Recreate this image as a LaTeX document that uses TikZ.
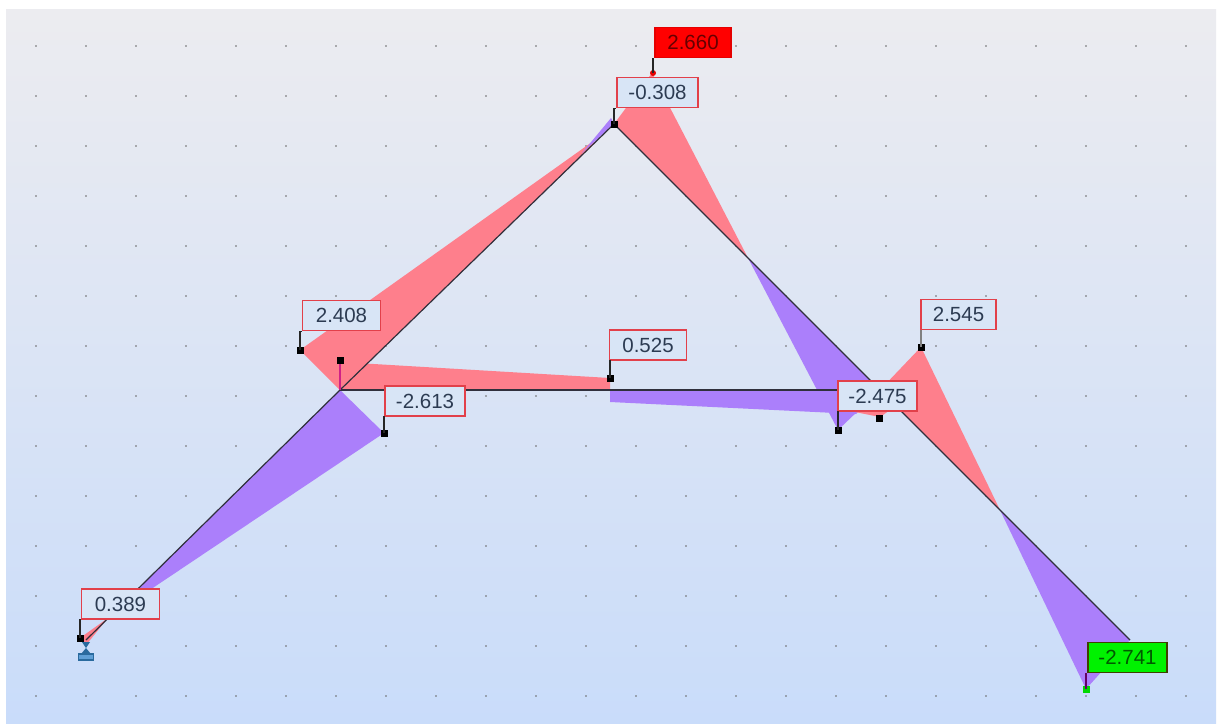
\documentclass[tikz,border=0pt]{standalone}
\usepackage{fontspec}
\setmainfont{Liberation Sans}
\definecolor{pinkf}{HTML}{FE7F8C}
\definecolor{purpf}{HTML}{AB7FFB}
\definecolor{labelf}{HTML}{D8E5F6}
\definecolor{labeld}{HTML}{E2404A}
\definecolor{labelt}{HTML}{2C3B52}
\definecolor{beam}{HTML}{30303C}
\definecolor{suppf}{HTML}{5F9FD6}
\definecolor{suppd}{HTML}{2A6A9E}
\tikzset{
  valbox/.style={draw=labeld,line width=1.5pt,fill=labelf,text=labelt,inner sep=0pt,
    minimum width=#1,minimum height=30pt,font=\fontsize{20.5}{24}\selectfont},
  valbox/.default=78pt,
  pt/.style={fill=black,minimum size=7pt,inner sep=0pt,draw=none,shape=rectangle},
  stem/.style={line width=1.4pt,draw=black!85},
  beamline/.style={line width=1.2pt,draw=beam},
  griddot/.style={fill=black!60,draw=none}
}
\begin{document}
\begin{tikzpicture}[x=1pt,y=-1pt]
\useasboundingbox (0,0) rectangle (1221,723);
\fill[white] (0,0) rectangle (1221,723);
\shade[top color={rgb,255:red,236;green,236;blue,240},bottom color={rgb,255:red,201;green,220;blue,250}] (6,9) rectangle (1216,723);
\foreach \gx in {36,86,...,1186}
  \foreach \gy in {46,96,...,696}
    \fill[griddot] (\gx,\gy) circle (0.8pt);
% joints
\coordinate (base) at (86,640);
\coordinate (jl) at (340,390);
\coordinate (apex) at (614,124);
\coordinate (jr) at (880,390);
\coordinate (tip) at (1130,640);
% fills
\fill[pinkf] (86,645) -- (80,638) -- (108,618) -- cycle;
\fill[purpf] (108,618) -- (jl) -- (384,433) -- cycle;
\fill[pinkf] (jl) -- (300,350) -- (592,142) -- (596,142) -- cycle;
\fill[purpf] (582,153) -- (611,118) -- (apex) -- cycle;
\fill[pinkf] (apex) -- (652,73) -- (748,258) -- cycle;
\fill[purpf] (748,258) -- (838,430) -- (jr) -- cycle;
\fill[pinkf] (jl) -- (340,362) -- (610,378) -- (610,390) -- cycle;
\fill[purpf] (610,390) -- (610,402) -- (856,414) -- (880,390) -- cycle;
\fill[pinkf] (855,412) -- (880,417) -- (896,406) -- (880,396) -- cycle;
\fill[pinkf] (jr) -- (921,347) -- (1000,510) -- cycle;
\fill[purpf] (1000,510) -- (tip) -- (1086,689) -- cycle;
% beams
\draw[beamline] (base) -- (jl) -- (apex) -- (tip);
\draw[beamline] (jl) -- (jr);
% support
\fill[suppd] (82,642) -- (90,642) -- (86,648) -- (91,654) -- (81,654) -- (86,648) -- cycle;
\draw[draw=suppd,fill=suppf,line width=1.4pt] (78.5,654) rectangle (93.5,660);
% points
\node[pt] (p389) at (80,638) {};
\node[pt] (p2408) at (300,350) {};
\node[pt] (pzl) at (340,360) {};
\node[pt] (p2613) at (384,433) {};
\node[pt] (p525) at (610,378) {};
\node[pt] (p308) at (614,124) {};
\node[pt] (p2475) at (838,430) {};
\node[pt] (pzr) at (879,418) {};
\node[pt] (p2545) at (921,347) {};
\node[circle,fill=red!90!black,minimum size=6pt,inner sep=0pt] (p2660) at (653,73) {};
\node[rectangle,fill=green!85!black,minimum size=7pt,inner sep=0pt] (p2741) at (1086,689) {};
% labels
\node[valbox] (l389) at (120.5,604) {0.389};
\node[valbox] (l2408) at (341.5,315.5) {2.408};
\node[valbox=80pt] (l2613) at (425,401) {-2.613};
\node[valbox=77pt] (l525) at (648,345) {0.525};
\node[valbox=81pt] (l308) at (657.5,92.5) {-0.308};
\node[valbox=79pt] (l2475) at (877.5,396) {-2.475};
\node[valbox=75pt] (l2545) at (958.5,314.5) {2.545};
\node[valbox=76pt,fill=red,draw=red!90!black,text=red!40!black] (l2660) at (693,42.5) {2.660};
\node[valbox=79pt,fill=green!95!black,draw=red!50!green!50!black,text=green!35!black] (l2741) at (1127.5,657.5) {-2.741};
% stems
\draw[stem] (p389.center) -- (p389.center |- l389.south) -- (l389.south west);
\draw[stem] (p2408.center) -- (p2408.center |- l2408.south) -- (l2408.south west);
\draw[stem] (p2613.center) -- (p2613.center |- l2613.south) -- (l2613.south west);
\draw[stem] (p525.center) -- (p525.center |- l525.south) -- (l525.south west);
\draw[stem] (p308.center) -- (p308.center |- l308.south) -- (l308.south west);
\draw[stem] (p2475.center) -- (p2475.center |- l2475.south) -- (l2475.south west);
\draw[stem,draw=black!50] (p2545.center) -- (p2545.center |- l2545.south) -- (l2545.south west);
\draw[stem] (p2660.center) -- (p2660.center |- l2660.south) -- (l2660.south west);
\draw[stem,draw=violet!80!black] (p2741.center) -- (p2741.center |- l2741.south) -- (l2741.south west);
\draw[line width=1.4pt,draw=magenta!70!violet] (jl) -- (pzl.south);
\end{tikzpicture}
\end{document}
